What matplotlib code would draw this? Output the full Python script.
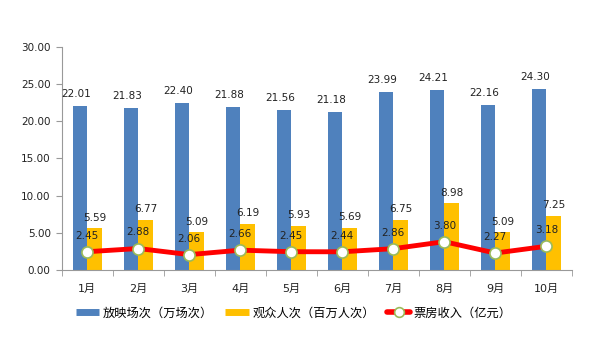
import matplotlib
matplotlib.use("Agg")
import matplotlib.pyplot as plt
import numpy as np
from matplotlib.lines import Line2D

plt.rcParams['font.family'] = ['DejaVu Sans', 'Noto Sans CJK SC']

months = ['1月', '2月', '3月', '4月', '5月', '6月', '7月', '8月', '9月', '10月']
screenings = [22.01, 21.83, 22.40, 21.88, 21.56, 21.18, 23.99, 24.21, 22.16, 24.30]
audience = [5.59, 6.77, 5.09, 6.19, 5.93, 5.69, 6.75, 8.98, 5.09, 7.25]
box_office = [2.45, 2.88, 2.06, 2.66, 2.45, 2.44, 2.86, 3.80, 2.27, 3.18]
series_names = ['放映场次（万场次）', '观众人次（百万人次）', '票房收入（亿元）']
yticks = [0, 5, 10, 15, 20, 25, 30]

blue = '#4F81BD'
yellow = '#FFC000'
red = '#FF0000'

fig = plt.figure(figsize=(6.0, 3.37), dpi=100)
ax = fig.add_axes([0.103, 0.199, 0.850, 0.662])

x = np.arange(len(months))
w = 0.285
ax.bar(x - w/2, screenings, w, color=blue, zorder=2)
ax.bar(x + w/2, audience, w, color=yellow, zorder=2)
ax.plot(x, box_office, color=red, lw=3.5, marker='o', ms=8,
        mfc='white', mec='#9BBB59', mew=1.2, zorder=4)

fs = 7.5
tc = '#222222'
for i in range(len(x)):
    ax.annotate(f'{screenings[i]:.2f}', (x[i] - w/2, screenings[i]), xytext=(-3, 5),
                textcoords='offset points', ha='center', va='bottom', fontsize=fs, color=tc)
    ax.annotate(f'{audience[i]:.2f}', (x[i] + w/2, audience[i]), xytext=(0, 4),
                textcoords='offset points', ha='center', va='bottom', fontsize=fs, color=tc)
    ax.annotate(f'{box_office[i]:.2f}', (x[i], box_office[i]), xytext=(0, 8),
                textcoords='offset points', ha='center', va='bottom', fontsize=fs, color=tc, zorder=5)

ax.set_xlim(-0.5, len(months) - 0.5)
ax.set_ylim(0, 30)
ax.set_yticks(yticks)
ax.set_yticklabels([f'{v:.2f}' for v in yticks], fontsize=7.5, color=tc)
ax.set_xticks(x)
ax.set_xticklabels(months, fontsize=8, color=tc)
ax.set_xticks(np.arange(-0.5, len(months) + 0.5, 1), minor=True)
ax.tick_params(axis='x', which='major', length=0, pad=10)
ax.tick_params(axis='x', which='minor', length=4, color='#999999', direction='out')
ax.tick_params(axis='y', length=4, color='#999999', direction='out', pad=4)
for s in ['top', 'right']:
    ax.spines[s].set_visible(False)
ax.spines['left'].set_color('#999999')
ax.spines['bottom'].set_color('#999999')

handles = [
    Line2D([0], [0], color=blue, lw=5, solid_capstyle='butt'),
    Line2D([0], [0], color=yellow, lw=5, solid_capstyle='butt'),
    Line2D([0], [0], color=red, lw=4, solid_capstyle='round', marker='o', ms=7,
           mfc='white', mec='#9BBB59', mew=1.2),
]
fig.legend(handles, series_names, loc='center', bbox_to_anchor=(0.49, 0.071), ncol=3,
           frameon=False, fontsize=8.8, handlelength=1.9, handletextpad=0.3, columnspacing=1.0)

fig.savefig('out.png', dpi=100)
